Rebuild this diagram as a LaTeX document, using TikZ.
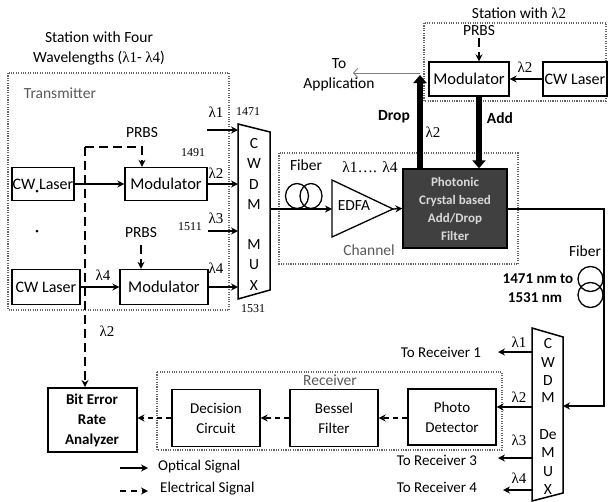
\documentclass[tikz,border=0pt]{standalone}
\usepackage{fontspec}
\setmainfont{Carlito}
\newfontfamily\serifnum{Liberation Serif}
\usetikzlibrary{arrows.meta}
\newcommand{\fs}{\fontsize{15.5}{20}\selectfont}
\newcommand{\fsb}{\fontsize{15}{20}\selectfont}
\newcommand{\fsm}{\fontsize{16.5}{20}\selectfont}
\newcommand{\lm}[1]{{\serifnum\fontsize{15}{18}\selectfont λ#1}}
\newcommand{\wl}[1]{{\serifnum\fontsize{12}{14}\selectfont #1}}
\definecolor{grouptext}{HTML}{595959}
\definecolor{pcfill}{HTML}{404040}
\definecolor{pctext}{HTML}{D9D9D9}
\begin{document}
\begin{tikzpicture}[x=1pt,y=-1pt, font=\fs,
  box/.style={draw, line width=1.3pt, fill=white, inner sep=0pt, align=center},
  modbox/.style={box, font=\fsm},
  cwbox/.style={box, font=\fontsize{16}{20}\selectfont},
  rxbox/.style={box, font=\fsb, minimum width=88pt, minimum height=57pt},
  opt/.style={line width=1.3pt, -{Stealth[length=7pt,width=7pt]}},
  elec/.style={opt, dash pattern=on 9pt off 5pt},
  elecs/.style={opt, dash pattern=on 5pt off 4pt},
  grp/.style={draw=gray!80!black, line width=1.1pt, dash pattern=on 1.1pt off 1.3pt},
  glabel/.style={text=grouptext, inner sep=0pt},
  lab/.style={inner sep=0pt},
  thickarr/.style={line width=6.5pt, -{Triangle[length=8pt,width=13pt]}},
]
\useasboundingbox (0,0) rectangle (608,501);

% group boxes
\draw[grp] (8,73) rectangle (229,310);
\draw[grp] (279,153) rectangle (518,264);
\draw[grp] (157,372) rectangle (502,450);
\draw[grp] (424,23) rectangle (606,101);

% titles / group labels
\node[lab, align=center] (title1) at (99,48) {Station with Four\\Wavelengths (\lm{1}- \lm{4})};
\node[lab] (title2) at (519,13) {Station with \lm{2}};
\node[glabel] (trl) at (60,93) {Transmitter};
\node[glabel] (chl) at (369,250) {Channel};
\node[glabel] (rxl) at (330,380) {Receiver};

% transmitter
\node[cwbox, minimum width=62pt, minimum height=33pt] (cw1) at (43,184) {CW Laser};
\node[modbox, minimum width=82pt, minimum height=33pt] (mod1) at (166,184) {Modulator};
\node[cwbox, minimum width=68pt, minimum height=35pt] (cw2) at (46,287) {CW Laser};
\node[modbox, minimum width=88pt, minimum height=35pt] (mod2) at (164,287) {Modulator};
\fill (37,191) circle (1.5pt);
\fill (37,231) circle (1.5pt);

% MUX
\draw[line width=1.5pt, fill=white] (238,124) -- (270,132) -- (270,290) -- (238,299) -- cycle;
\foreach \l/\y [count=\i] in {C/144, W/164, D/185, M/205, M/245, U/265, X/286}
  \node[lab] (mux\i) at (254,\y) {\l};
\coordinate (mi1) at (238,130);
\coordinate (mi2) at (238,184);
\coordinate (mi3) at (238,231);
\coordinate (mi4) at (238,287);
\coordinate (l1s) at (207,130);
\coordinate (l3s) at (208,231);

\draw[opt] (cw1) -- (mod1);
\draw[opt] (cw2) -- (mod2);
\draw[opt] (l1s) -- (mi1);
\draw[opt] (mod1.east) -- (mi2);
\draw[opt] (l3s) -- (mi3);
\draw[opt] (mod2.east) -- (mi4);

\node[lab] (la1) at (216,112) {\lm{1}};
\node[lab] (la2) at (216,173) {\lm{2}};
\node[lab] (la3) at (216,218) {\lm{3}};
\node[lab] (la4) at (216,268) {\lm{4}};
\node[lab] (n1471) at (248,112) {\wl{1471}};
\node[lab] (n1491) at (193,153) {\wl{1491}};
\node[lab] (n1511) at (190,227) {\wl{1511}};
\node[lab] (n1531) at (253,309) {\wl{1531}};
\node[lab] (la4b) at (103,275) {\lm{4}};
\node[lab] (la2b) at (107,331) {\lm{2}};
\node[lab] (prbs1) at (142,133) {PRBS};
\node[lab] (prbs2) at (141,233) {PRBS};

% BER
\node[box, line width=2pt, minimum width=89pt, minimum height=64pt, font=\fsb\bfseries] (ber) at (92,420) {Bit Error\\Rate\\Analyzer};

% electrical (PRBS) lines
\coordinate (tee) at (85,147);
\coordinate (pr1) at (142,147);
\coordinate (pr2) at (141,245);
\draw[elec] (tee) -- (pr1) -- (pr1 |- mod1.north);
\draw[elec] (tee) -- (tee |- ber.north);
\draw[elec] (pr2) -- (pr2 |- mod2.north);

% channel
\coordinate (muxout) at (270,209);
\draw[line width=1.3pt] (297,196) ellipse (11.5pt and 12.5pt);
\draw[line width=1.3pt] (311,196) ellipse (11pt and 12.5pt);
\node[lab] (fib1) at (306,165) {Fiber};
\node[lab] (lrange) at (370,167) {{\serifnum λ1…. λ4}};
\draw[line width=1.3pt, fill=white] (332,180) -- (393,209) -- (332,237) -- cycle;
\coordinate (edfain) at (332,209);
\coordinate (edfaout) at (393,209);
\node[lab] (edfa) at (354,206) {EDFA};
\node[box, fill=pcfill, text=pctext, font=\bfseries\fontsize{13}{18}\selectfont, minimum width=104pt, minimum height=79pt] (pc) at (455,208.5) {Photonic\\Crystal based\\Add/Drop\\Filter};
\draw[opt] (muxout) -- (edfain);
\draw[opt] (edfaout) -- (pc.west);

% add/drop station
\node[modbox, minimum width=80pt, minimum height=34pt] (modt) at (469,79) {Modulator};
\node[cwbox, minimum width=64pt, minimum height=34pt] (cwt) at (575,79) {CW Laser};
\draw[opt] (cwt) -- (modt);
\node[lab] (prbst) at (479,31) {PRBS};
\coordinate (prt) at (479,38);
\draw[elec] (prt) -- (prt |- modt.north);
\node[lab] (la2t) at (525,67) {\lm{2}};
\coordinate (dropx) at (420,75);
\coordinate (addx) at (479,0);
\draw[thickarr] (dropx |- pc.north) -- (dropx);
\draw[thickarr] (addx |- modt.south) -- (addx |- pc.north);
\coordinate (appx) at (353,73);
\draw[gray, line width=0.9pt, -{Straight Barb[length=4pt,width=9pt]}] (dropx |- appx) -- (appx);
\node[lab, align=center] (toapp) at (339,75) {To\\Application};
\node[lab, font=\fs\bfseries] (drop) at (394,117) {Drop};
\node[lab] (la2d) at (433,132) {\lm{2}};
\node[lab, font=\fs\bfseries] (add) at (500,118) {Add};

% output fiber
\draw[line width=1.3pt] (590.5,279) circle (12.5pt);
\draw[line width=1.3pt] (590.5,295) circle (12.5pt);
\node[lab] (fib2) at (585,251) {Fiber};
\node[lab, font=\fsb\bfseries] (nm1) at (538,279) {1471 nm to};
\node[lab, font=\fsb\bfseries] (nm2) at (535,298) {1531 nm};

% DEMUX
\draw[line width=1.5pt, fill=white] (532,328) -- (563,337) -- (563,493) -- (532,501) -- cycle;
\foreach \l/\y [count=\i] in {C/344, W/363, D/381, M/398, De/435, M/453, U/472, X/490}
  \node[lab] (dmx\i) at (548,\y) {\l};
\coordinate (rt) at (604,209);
\coordinate (rb) at (604,406);
\coordinate (dmr) at (563,406);
\draw[opt] (pc.east |- rt) -- (rt) -- (rb) -- (dmr);

% receiver
\node[rxbox] (dc) at (216,418) {Decision\\Circuit};
\node[rxbox] (bf) at (334,418) {Bessel\\Filter};
\node[rxbox, minimum height=56pt] (pd) at (452,417) {Photo\\Detector};
\draw[elecs] (pd.west |- bf.east) -- (bf.east);
\draw[elecs] (bf.west) -- (dc.east);
\draw[elecs] (dc.west) -- (dc.west -| ber.east);

\coordinate (dl1) at (532,352);
\coordinate (dl2) at (532,407);
\coordinate (dl3) at (532,458);
\coordinate (dl4) at (532,490);
\coordinate (e1) at (498,352);
\coordinate (e3) at (498,458);
\coordinate (e4) at (503,490);
\draw[opt] (dl1) -- (e1);
\draw[opt] (dl2) -- (dl2 -| pd.east);
\draw[opt] (dl3) -- (e3);
\draw[opt] (dl4) -- (e4);
\node[lab, font=\fsb] (rx1) at (441,352) {To Receiver 1};
\node[lab, font=\fsb] (rx3) at (437,460) {To Receiver 3};
\node[lab, font=\fsb] (rx4) at (437,487) {To Receiver 4};
\node[lab] (ld1) at (519,342) {\lm{1}};
\node[lab] (ld2) at (519,397) {\lm{2}};
\node[lab] (ld3) at (519,440) {\lm{3}};
\node[lab] (ld4) at (519,478) {\lm{4}};

% legend
\coordinate (lg1a) at (120,468);
\coordinate (lg1b) at (148,468);
\coordinate (lg2a) at (120,491);
\coordinate (lg2b) at (148,491);
\draw[opt] (lg1a) -- (lg1b);
\draw[opt, dash pattern=on 6pt off 5pt] (lg2a) -- (lg2b);
\node[lab, anchor=west, font=\fsb] (lgt1) at (158,467) {Optical Signal};
\node[lab, anchor=west, font=\fsb] (lgt2) at (160,489) {Electrical Signal};
\end{tikzpicture}
\end{document}
